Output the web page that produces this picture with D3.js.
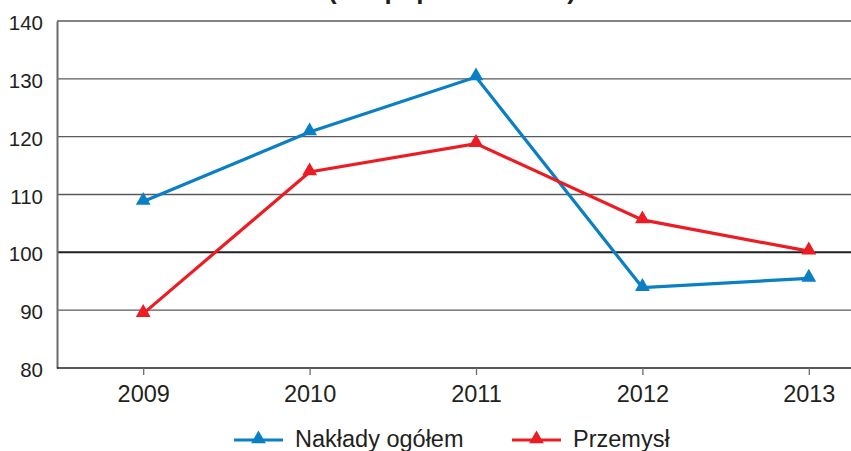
<!DOCTYPE html>
<html><head><meta charset="utf-8">
<script src="https://cdn.jsdelivr.net/npm/d3@7"></script>
<style>body{margin:0;background:#fff}svg{display:block;font-family:"Liberation Sans",Arial,sans-serif}</style>
</head><body>
<svg id="c" width="851" height="451"></svg>
<script>
const title = "(rok poprzedni=100)";
const years = ["2009","2010","2011","2012","2013"];
const yTicks = [80,90,100,110,120,130,140];
const seriesNames = ["Nakłady ogółem","Przemysł"];
const naklady = [108.8,120.8,130.3,93.9,95.5];
const przemysl = [89.4,113.9,118.8,105.6,100.2];
const colors = ["#0a7fc4","#ec1c24"];

const svg = d3.select("#c");
const x = d3.scalePoint().domain(years).range([60,892]).padding(0.5);
const y = d3.scaleLinear().domain([80,140]).range([368,21]);

svg.append("text").attr("x",452).attr("y",-1).attr("text-anchor","middle")
  .attr("font-weight","bold").attr("font-size",26).attr("fill","#231f20").text(title);

// gridlines
svg.append("g").selectAll("line").data(yTicks.filter(d=>d!==80)).join("line")
  .attr("x1",57).attr("x2",851).attr("y1",d=>y(d)).attr("y2",d=>y(d))
  .attr("stroke",d=>d===100?"#231f20":"#5a5a5a").attr("stroke-width",d=>d===100?2:1.3);

// y axis
const ya = svg.append("g").attr("transform","translate(57,0)")
  .call(d3.axisLeft(y).tickValues(yTicks).tickSize(0).tickPadding(14));
ya.select(".domain").attr("stroke","#6d6d6d").attr("stroke-width",2);
ya.selectAll("text").attr("font-size",20.5).attr("y",2).attr("fill","#231f20")
  .attr("font-family","Liberation Sans, Arial, sans-serif");

// x axis
const xa = svg.append("g").attr("transform","translate(0,368)")
  .call(d3.axisBottom(x).tickSizeOuter(0).tickSize(7).tickPadding(9));
xa.select(".domain").attr("d","M57,0H851").attr("stroke","#231f20").attr("stroke-width",1.5);
xa.selectAll(".tick line").attr("stroke","#6d6d6d").attr("stroke-width",1.3);
xa.selectAll("text").attr("font-size",23.5).attr("y",34).attr("dy",0).attr("fill","#231f20")
  .attr("font-family","Liberation Sans, Arial, sans-serif");

const tri = d3.symbol().type(d3.symbolTriangle).size(95);
const line = d3.line().x((d,i)=>x(years[i])).y(d=>y(d));
[naklady, przemysl].forEach((s,k)=>{
  svg.append("path").datum(s).attr("d",line).attr("fill","none")
    .attr("stroke",colors[k]).attr("stroke-width",3.2).attr("stroke-linejoin","miter");
  svg.append("g").selectAll("path").data(s).join("path")
    .attr("d",tri).attr("fill",colors[k])
    .attr("transform",(d,i)=>`translate(${x(years[i])},${y(d)-1})`);
});

// legend
const legX = [234,512];
seriesNames.forEach((n,k)=>{
  const g = svg.append("g").attr("transform",`translate(${legX[k]},440)`);
  g.append("line").attr("x1",0).attr("x2",49).attr("stroke",colors[k]).attr("stroke-width",3.2);
  g.append("path").attr("d",tri).attr("fill",colors[k]).attr("transform","translate(24.5,-1)");
  g.append("text").attr("x",61).attr("y",7).attr("font-size",23.5).attr("fill","#231f20").text(n);
});
</script>
</body></html>
